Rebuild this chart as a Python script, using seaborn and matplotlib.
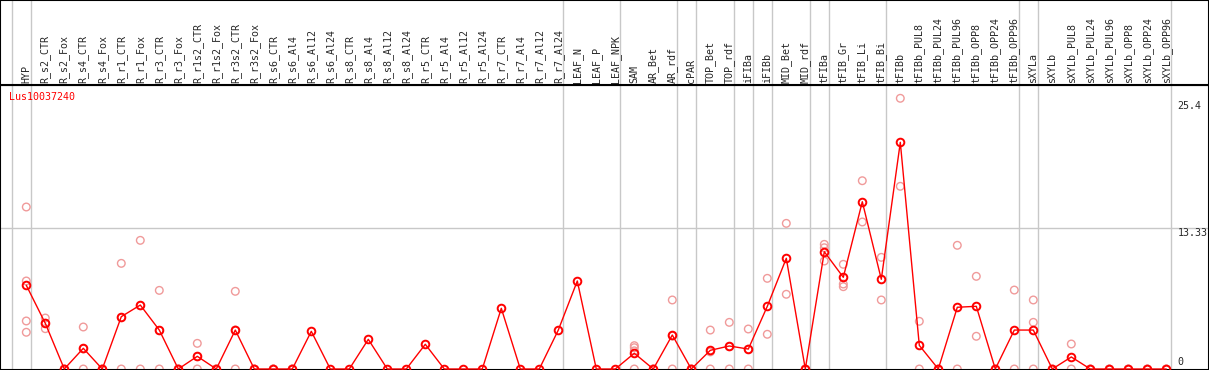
import matplotlib
matplotlib.use('Agg')
import matplotlib.pyplot as plt
import seaborn as sns
import numpy as np
import pandas as pd

# gene and sample names
title = 'Lus10037240'
samples = ['HYP', 'R_s2_CTR', 'R_s2_Fox', 'R_s4_CTR', 'R_s4_Fox', 'R_r1_CTR', 'R_r1_Fox',
           'R_r3_CTR', 'R_r3_Fox', 'R_r1s2_CTR', 'R_r1s2_Fox', 'R_r3s2_CTR', 'R_r3s2_Fox',
           'R_s6_CTR', 'R_s6_Al4', 'R_s6_Al12', 'R_s6_Al24', 'R_s8_CTR', 'R_s8_Al4',
           'R_s8_Al12', 'R_s8_Al24', 'R_r5_CTR', 'R_r5_Al4', 'R_r5_Al12', 'R_r5_Al24',
           'R_r7_CTR', 'R_r7_Al4', 'R_r7_Al12', 'R_r7_Al24', 'LEAF_N', 'LEAF_P', 'LEAF_NPK',
           'SAM', 'AR_Bet', 'AR_rdf', 'cPAR', 'TOP_Bet', 'TOP_rdf', 'iFIBa', 'iFIBb',
           'MID_Bet', 'MID_rdf', 'tFIBa', 'tFIB_Gr', 'tFIB_Li', 'tFIB_Bi', 'tFIBb',
           'tFIBb_PUL8', 'tFIBb_PUL24', 'tFIBb_PUL96', 'tFIBb_OPP8', 'tFIBb_OPP24',
           'tFIBb_OPP96', 'sXYLa', 'sXYLb', 'sXYLb_PUL8', 'sXYLb_PUL24', 'sXYLb_PUL96',
           'sXYLb_OPP8', 'sXYLb_OPP24', 'sXYLb_OPP96']

# mean expression per sample
means = [7.93, 4.33, 0, 1.96, 0, 4.96, 6.06, 3.69, 0, 1.2, 0, 3.69, 0,
         0, 0, 3.57, 0, 0, 2.81, 0, 0, 2.34, 0, 0, 0, 5.75, 0, 0, 3.69,
         8.34, 0, 0, 1.49, 0, 3.22, 0, 1.77, 2.18, 1.89, 5.94, 10.49, 0,
         11.11, 8.69, 15.85, 8.5, 21.48, 2.24, 0, 5.85, 5.94, 0, 3.69,
         3.69, 0, 1.14, 0, 0, 0, 0, 0]

# individual replicates
reps = [[15.35, 8.34, 4.55, 3.48], [4.83, 3.82, 4.34], [0, 0, 0], [3.98, 0, 1.9], [0, 0, 0],
        [10.01, 0, 4.87], [12.19, 0, 6.0], [7.45, 0, 3.64], [0, 0, 0], [2.43, 0, 1.17],
        [0, 0, 0], [7.36, 0, 3.7], [0, 0, 0], [0, 0, 0], [0, 0, 0],
        [], [], [], [], [], [], [], [], [], [], [], [], [], [], [], [], [],
        [2.21, 2.02, 0, 1.72], [0, 0, 0], [6.54, 0, 3.13], [0, 0, 0], [3.69, 0, 1.62],
        [4.42, 0, 2.12], [3.79, 0, 1.88], [8.59, 3.29], [13.8, 7.08], [0, 0, 0],
        [11.81, 11.49, 10.23], [9.92, 8.05, 7.8], [17.84, 13.93], [10.58, 6.54],
        [25.65, 17.31], [4.52, 0], [0, 0], [11.72, 0], [8.78, 3.1], [0, 0], [7.48, 0],
        [6.54, 4.42, 0], [0, 0], [2.37, 0], [0, 0], [0, 0], [0, 0], [0, 0], [0, 0]]

# last sample of each tissue group
group_ends = [-1, 0, 28, 31, 34, 35, 37, 38, 39, 41, 42, 45, 52, 53, 60]
y_marks = [0, 13.33, 25.4]

sns.set_style('white')
plt.rcParams['font.family'] = ['DejaVu Sans Mono']
plt.rcParams['font.size'] = 7.2

fig = plt.figure(figsize=(12.09, 3.70), dpi=100)
hdr_h = 85 / 370
ax = fig.add_axes([0, 0, 1, 1 - hdr_h])
hdr = fig.add_axes([0, 1 - hdr_h, 1, hdr_h], sharex=ax)

x = np.arange(len(samples))
rep_df = pd.DataFrame([(i, v) for i, r in enumerate(reps) for v in r], columns=['pos', 'value'])
main_df = pd.DataFrame({'pos': x, 'value': means})

grid_c = '#c8c8c8'
for g in group_ends:
    ax.axvline(g + 0.23, color=grid_c, lw=1, zorder=0)
    hdr.axvline(g + 0.23, color=grid_c, lw=1, zorder=0)
ax.axhline(13.33, color=grid_c, lw=1, zorder=0)

sns.scatterplot(data=rep_df, x='pos', y='value', ax=ax, marker='o', s=30,
                facecolor='none', edgecolor='#f09a9a', linewidth=1.0, zorder=2)
sns.lineplot(data=main_df, x='pos', y='value', ax=ax, color='red', linewidth=1.0,
             marker='o', markersize=5.5, markerfacecolor='none', markeredgecolor='red',
             markeredgewidth=1.4, zorder=3)

ax.set_xlim(-1.384, 62.247)
ax.set_ylim(-0.095, 26.91)
ax.set_xticks([])
ax.set_yticks([])
ax.set_xlabel('')
ax.set_ylabel('')

ax.text(-0.895, 25.8, title, color='red', ha='left', va='center')

for v in y_marks:
    off = 5.2 if v == 0 else -3.6
    ax.annotate(f'{v:g}', xy=(60.6, v), xytext=(0, off), textcoords='offset points',
                ha='left', va='center')

hdr.set_ylim(0, 1)
hdr.set_yticks([])
for i, s in enumerate(samples):
    hdr.text(i, 0.025, s, rotation=90, ha='center', va='bottom',
             transform=hdr.get_xaxis_transform())
hdr.tick_params(labelbottom=False, bottom=False)

for a in (ax, hdr):
    for sp in a.spines.values():
        sp.set_color('black')
        sp.set_linewidth(1.5)

fig.savefig('out.png', dpi=100)
